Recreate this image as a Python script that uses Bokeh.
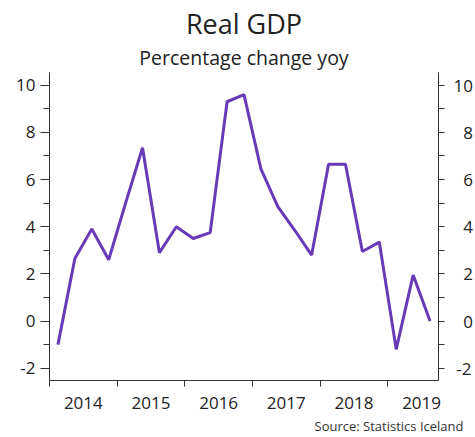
from bokeh.plotting import figure
from bokeh.models import Range1d, LinearAxis, FixedTicker, Title
from bokeh.embed import file_html
from bokeh.resources import INLINE

quarters = ["2014Q1", "2014Q2", "2014Q3", "2014Q4",
            "2015Q1", "2015Q2", "2015Q3", "2015Q4",
            "2016Q1", "2016Q2", "2016Q3", "2016Q4",
            "2017Q1", "2017Q2", "2017Q3", "2017Q4",
            "2018Q1", "2018Q2", "2018Q3", "2018Q4",
            "2019Q1", "2019Q2", "2019Q3"]
gdp = [-1.0, 2.65, 3.9, 2.6,
       5.0, 7.35, 2.9, 4.0,
       3.5, 3.75, 9.3, 9.6,
       6.45, 4.85, 3.85, 2.8,
       6.65, 6.65, 2.95, 3.35,
       -1.2, 1.95, 0.0]
years = [2014, 2015, 2016, 2017, 2018, 2019]
y_ticks = [-2, 0, 2, 4, 6, 8, 10]

# quarter midpoints on a continuous year scale
xq = [int(q[:4]) + (int(q[5]) - 1) / 4 + 0.125 for q in quarters]

FONT = "Open Sans"
TXT = "#222222"
AX = "#333333"

p = figure(width=475, height=437,
           x_range=Range1d(2014, 2019.75), y_range=Range1d(-2.52, 10.54),
           output_backend="svg", toolbar_location=None,
           min_border_left=49, min_border_right=37,
           min_border_top=72, min_border_bottom=56)
p.outline_line_color = None
p.grid.visible = False
p.background_fill_color = "white"
p.border_fill_color = "white"

p.line(xq, gdp, line_color="#673AB7", line_width=3)

# x axis: labels at mid-year, ticks at year boundaries
xa = p.xaxis[0]
xa.ticker = FixedTicker(ticks=[y + 0.5 for y in years], minor_ticks=years)
xa.major_label_overrides = {y + 0.5: str(y) for y in years}
xa.major_tick_line_color = None
xa.major_tick_out = 6
xa.minor_tick_in = 0
xa.minor_tick_out = 6
xa.minor_tick_line_color = AX
xa.axis_line_color = AX
xa.major_label_standoff = 10
xa.major_label_text_font = FONT
xa.major_label_text_font_size = "17px"
xa.major_label_text_color = TXT

ya = p.yaxis[0]
ya.ticker = FixedTicker(ticks=y_ticks, minor_ticks=[t + 1 for t in y_ticks[:-1]])
ya.major_label_overrides = {t: str(t) for t in y_ticks}
ya.major_tick_in = 0
ya.major_tick_out = 9
ya.minor_tick_in = 0
ya.minor_tick_out = 6
ya.axis_line_color = AX
ya.major_tick_line_color = AX
ya.minor_tick_line_color = AX
ya.major_label_standoff = 5
ya.major_label_text_font = FONT
ya.major_label_text_font_size = "17px"
ya.major_label_text_color = TXT

ra = LinearAxis(ticker=FixedTicker(ticks=y_ticks, minor_ticks=[t + 1 for t in y_ticks[:-1]]))
ra.major_label_overrides = {t: (str(t) if len(str(t)) > 1 else "\u2007" + str(t)) for t in y_ticks}
ra.major_label_overrides[-2] = "\u2009-2"
ra.major_tick_in = 0
ra.major_tick_out = 6
ra.minor_tick_in = 0
ra.minor_tick_out = 6
ra.axis_line_color = AX
ra.major_tick_line_color = AX
ra.minor_tick_line_color = AX
ra.major_label_standoff = 9
ra.major_label_text_font = FONT
ra.major_label_text_font_size = "17px"
ra.major_label_text_color = TXT
p.add_layout(ra, "right")

p.add_layout(Title(text="Percentage change yoy", align="center",
                   text_font=FONT, text_font_size="19.5px", standoff=4,
                   text_font_style="normal", text_color=TXT), "above")
p.add_layout(Title(text="Real GDP", align="center",
                   text_font=FONT, text_font_size="27px", standoff=-4,
                   text_font_style="normal", text_color=TXT), "above")
p.add_layout(Title(text="Source: Statistics Iceland", align="right",
                   text_font=FONT, text_font_size="13px", standoff=6,
                   text_font_style="normal", text_color=AX, offset=-25), "below")

open("out.html", "w").write(file_html(p, INLINE))
